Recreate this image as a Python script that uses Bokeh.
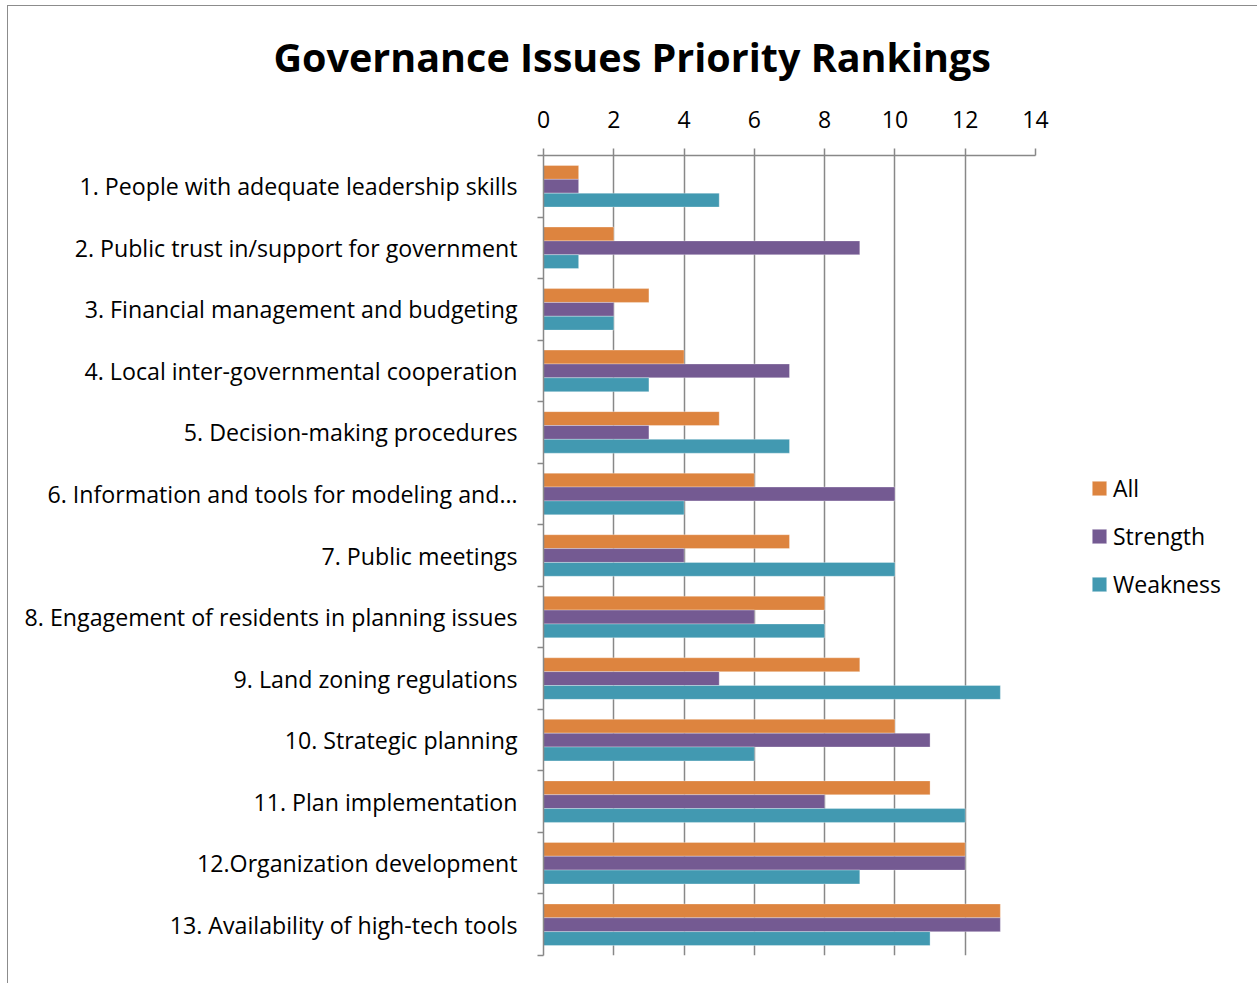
import numpy as np
from bokeh.plotting import figure
from bokeh.models import (Range1d, LinearAxis, FixedTicker, Legend, LegendItem,
                          ColumnDataSource, Title)
from bokeh.embed import file_html
from bokeh.resources import INLINE

categories = [
    "1. People with adequate leadership skills",
    "2. Public trust in/support for government",
    "3. Financial management and budgeting",
    "4. Local inter-governmental cooperation",
    "5. Decision-making procedures",
    "6. Information and tools for modeling and\u2026",
    "7. Public meetings",
    "8. Engagement of residents in planning issues",
    "9. Land zoning regulations",
    "10. Strategic planning",
    "11. Plan implementation",
    "12.Organization development",
    "13. Availability of high-tech tools",
]
all_vals = [1, 2, 3, 4, 5, 6, 7, 8, 9, 10, 11, 12, 13]
strength_vals = [1, 9, 2, 7, 3, 10, 4, 6, 5, 11, 8, 12, 13]
weakness_vals = [5, 1, 2, 3, 7, 4, 10, 8, 13, 6, 12, 9, 11]
series_names = ["All", "Strength", "Weakness"]
series_colors = ["#DD843F", "#745A92", "#4299B1"]
x_ticks = [0, 2, 4, 6, 8, 10, 12, 14]

FONT = "Open Sans"
GRAY = "#888888"

n = len(categories)
centers = n - np.arange(n) - 0.5
bh = 0.225
offsets = [bh, 0.0, -bh]

src = ColumnDataSource(dict(
    center=centers,
    All=all_vals, Strength=strength_vals, Weakness=weakness_vals,
))

p = figure(frame_width=492, frame_height=800, output_backend="svg", toolbar_location=None,
           x_range=Range1d(0, 14), y_range=Range1d(0, n),
           x_axis_location="above", y_axis_location=None,
           min_border_left=535, min_border_right=220,
           min_border_top=149, min_border_bottom=40)
p.styles = {"border": "1px solid #8C8C8C", "margin-left": "7px", "margin-top": "5px"}
p.outline_line_color = None

renderers = []
for name, col, off in zip(series_names, series_colors, offsets):
    r = p.hbar(y=src.data["center"] + off, left=0, right=src.data[name], height=bh,
               fill_color=col, line_color="white", line_width=0.5, line_alpha=0.6)
    renderers.append(r)

# top x axis
xa = p.xaxis[0]
xa.ticker = FixedTicker(ticks=x_ticks)
xa.major_tick_out = 7
xa.major_tick_in = 0
xa.minor_tick_line_color = None
xa.axis_line_color = GRAY
xa.major_tick_line_color = GRAY
xa.axis_line_width = 1.5
xa.major_tick_line_width = 1.5
xa.major_label_text_font = FONT
xa.major_label_text_font_size = "23px"
xa.major_label_text_color = "black"
xa.major_label_standoff = 21

# left category axis
ya = LinearAxis(ticker=FixedTicker(ticks=list(centers), minor_ticks=list(np.arange(n + 1))))
ya.major_label_overrides = {float(c): lab for c, lab in zip(centers, categories)}
ya.major_tick_line_color = None
ya.major_tick_out = 0
ya.major_tick_in = 0
ya.minor_tick_out = 6
ya.minor_tick_in = 0
ya.minor_tick_line_color = GRAY
ya.minor_tick_line_width = 1.5
ya.axis_line_color = GRAY
ya.axis_line_width = 1.5
ya.major_label_text_font = FONT
ya.major_label_text_font_size = "23.2px"
ya.major_label_text_color = "black"
ya.major_label_standoff = 20
p.add_layout(ya, "left")

p.xgrid.grid_line_color = GRAY
p.xgrid.grid_line_width = 1.5
p.ygrid.grid_line_color = None

legend = Legend(items=[LegendItem(label=nm, renderers=[r]) for nm, r in zip(series_names, renderers)],
                location=(55, 355), border_line_color=None, background_fill_alpha=0,
                label_text_font=FONT, label_text_font_size="23px", label_text_color="black",
                glyph_width=18, glyph_height=18, label_height=24,
                spacing=16, padding=0, margin=0, label_standoff=5)
p.add_layout(legend, "right")

p.title = Title(text="Governance Issues Priority Rankings", align="left", offset=-270,
                vertical_align="top",
                text_font=FONT, text_font_size="39.5px", text_font_style="bold",
                text_color="black", standoff=44)

open("out.html", "w").write(file_html(p, INLINE))
